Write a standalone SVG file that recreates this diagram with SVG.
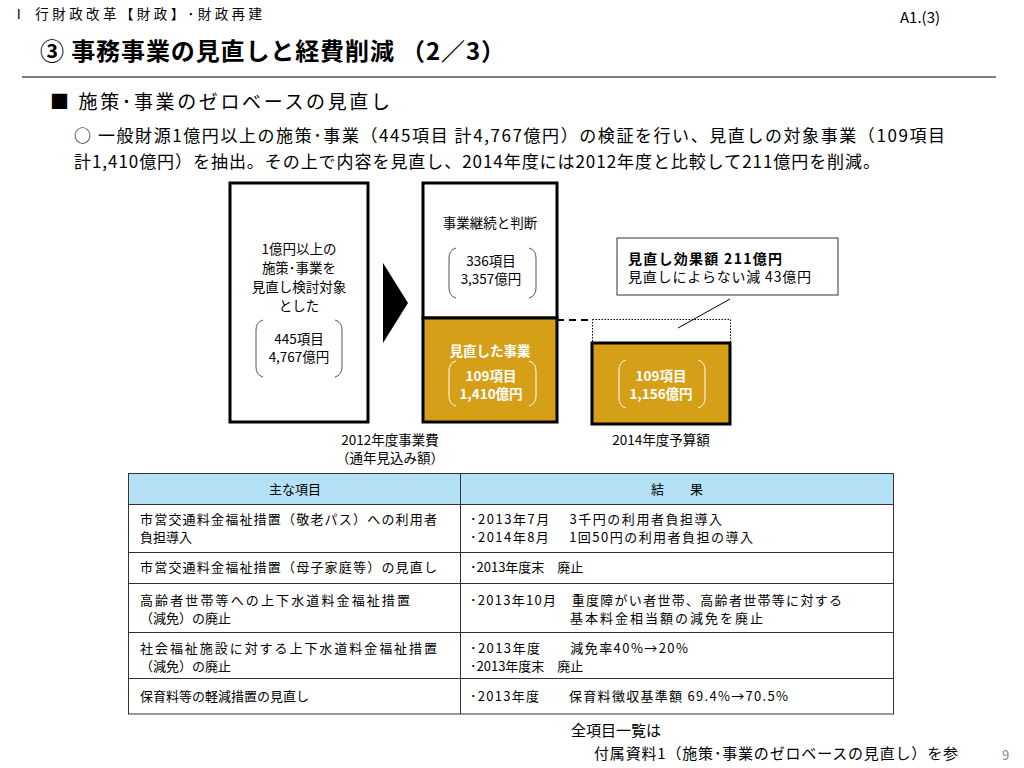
<svg xmlns="http://www.w3.org/2000/svg" width="1024" height="768" viewBox="0 0 1024 768">
<style>
text{font-family:"Noto Sans CJK JP","Noto Sans",sans-serif;fill:#000}
.w{fill:#fff;font-weight:bold}
.c{text-anchor:middle}
.t{font-size:13.5px}
.tb{font-size:13px}
.box{fill:#fff;stroke:#000;stroke-width:3}
.gold{fill:#D5A017;stroke:#000;stroke-width:3}
.br{fill:none;stroke:#555;stroke-width:1}
.brw{fill:none;stroke:#fff;stroke-width:1}
.tl{stroke:#333;stroke-width:1;fill:none}
</style>
<rect width="1024" height="768" fill="#fff"/>
<g id="header">
<text x="12" y="19" font-size="13.5" textLength="250" lengthAdjust="spacing">Ⅰ  行財政改革【財政】･財政再建</text>
<text x="900" y="23" font-size="15" font-family="Liberation Sans,sans-serif">A1.(3)</text>
<text x="40" y="60" font-size="24" font-weight="bold" textLength="465" lengthAdjust="spacing">③  事務事業の見直しと経費削減 （2／3）</text>
<line x1="22" y1="77" x2="996" y2="77" stroke="#000" stroke-width="1.2"/>
<text x="50" y="109" font-size="19" textLength="340" lengthAdjust="spacing">■ 施策･事業のゼロベースの見直し</text>
<text x="74" y="142" font-size="17" textLength="871" lengthAdjust="spacing">○ 一般財源1億円以上の施策･事業（445項目  計4,767億円）の検証を行い、見直しの対象事業（109項目</text>
<text x="74" y="168" font-size="17" textLength="806" lengthAdjust="spacing">計1,410億円）を抽出。その上で内容を見直し、2014年度には2012年度と比較して211億円を削減。</text>
</g>
<g id="node-left">
<rect class="box" x="230" y="183" width="138" height="239"/>
<text class="c t" x="299" y="254">1億円以上の</text>
<text class="c t" x="299" y="273">施策･事業を</text>
<text class="c t" x="299" y="292">見直し検討対象</text>
<text class="c t" x="299" y="311">とした</text>
<path class="br" d="M263,320 Q256,322 256,330 L256,367 Q256,375 263,377"/>
<path class="br" d="M335,320 Q342,322 342,330 L342,367 Q342,375 335,377"/>
<text class="c t" x="299" y="344">445項目</text>
<text class="c t" x="299" y="362">4,767億円</text>
</g>
<g id="arrow">
<polygon points="383,263 408,303 383,343" fill="#000"/>
</g>
<g id="node-middle">
<rect class="box" x="423" y="183" width="134" height="135"/>
<rect class="gold" x="423" y="318" width="134" height="104"/>
<text class="c t" x="490" y="228">事業継続と判断</text>
<path class="br" d="M456,248 Q449,250 449,258 L449,288 Q449,296 456,298"/>
<path class="br" d="M529,248 Q536,250 536,258 L536,288 Q536,296 529,298"/>
<text class="c t" x="491" y="266">336項目</text>
<text class="c t" x="491" y="284">3,357億円</text>
<text class="c t w" x="490" y="356">見直した事業</text>
<path class="brw" d="M456,361 Q449,363 449,371 L449,396 Q449,404 456,406"/>
<path class="brw" d="M529,361 Q536,363 536,371 L536,396 Q536,404 529,406"/>
<text class="c t w" x="491" y="381">109項目</text>
<text class="c t w" x="491" y="399">1,410億円</text>
<text class="c t" x="390" y="445">2012年度事業費</text>
<text class="c t" x="390" y="463">（通年見込み額）</text>
</g>
<g id="node-right">
<rect x="592.5" y="319.5" width="138" height="23" fill="none" stroke="#000" stroke-width="1" stroke-dasharray="1.5,1.5"/>
<rect class="gold" x="592" y="343" width="138" height="81"/>
<path class="brw" d="M626,360 Q619,362 619,370 L619,398 Q619,406 626,408"/>
<path class="brw" d="M698,360 Q705,362 705,370 L705,398 Q705,406 698,408"/>
<text class="c t w" x="661" y="381">109項目</text>
<text class="c t w" x="661" y="399">1,156億円</text>
<text class="c t" x="661" y="445">2014年度予算額</text>
</g>
<g id="callout">
<rect x="617" y="238" width="221" height="57" fill="#fff" stroke="#333" stroke-width="1"/>
<text x="628" y="264" font-size="14" font-weight="bold" textLength="154" lengthAdjust="spacing">見直し効果額  211億円</text>
<text x="628" y="282" font-size="14" textLength="183" lengthAdjust="spacing">見直しによらない減  43億円</text>
</g>
<g id="connectors">
<line x1="557" y1="320" x2="592" y2="320" stroke="#000" stroke-width="2" stroke-dasharray="7,5"/>
<line x1="730" y1="299" x2="678" y2="328" stroke="#000" stroke-width="1"/>
</g>
<g id="table">
<rect x="128.5" y="473.5" width="765" height="31" fill="#B5E1F7"/>
<rect class="tl" x="128.5" y="473.5" width="765" height="240.5" stroke-width="1.5"/>
<line class="tl" x1="128" y1="504.5" x2="894" y2="504.5"/>
<line class="tl" x1="128" y1="552.5" x2="894" y2="552.5"/>
<line class="tl" x1="128" y1="583.5" x2="894" y2="583.5"/>
<line class="tl" x1="128" y1="632.5" x2="894" y2="632.5"/>
<line class="tl" x1="128" y1="678.5" x2="894" y2="678.5"/>
<line class="tl" x1="460.5" y1="473" x2="460.5" y2="714"/>
<text class="c tb" x="295" y="494">主な項目</text>
<text class="c tb" x="677" y="494">結　　果</text>
<text class="tb" x="140" y="524" textLength="297" lengthAdjust="spacing">市営交通料金福祉措置（敬老パス）への利用者</text>
<text class="tb" x="140" y="542">負担導入</text>
<text class="tb" x="470" y="524" textLength="252" lengthAdjust="spacing">･2013年7月　 3千円の利用者負担導入</text>
<text class="tb" x="470" y="542" textLength="283" lengthAdjust="spacing">･2014年8月　 1回50円の利用者負担の導入</text>
<text class="tb" x="140" y="572" textLength="297" lengthAdjust="spacing">市営交通料金福祉措置（母子家庭等）の見直し</text>
<text class="tb" x="470" y="572">･2013年度末　廃止</text>
<text class="tb" x="140" y="605" textLength="270" lengthAdjust="spacing">高齢者世帯等への上下水道料金福祉措置</text>
<text class="tb" x="140" y="623">（減免）の廃止</text>
<text class="tb" x="470" y="605" textLength="372" lengthAdjust="spacing">･2013年10月　重度障がい者世帯、高齢者世帯等に対する</text>
<text class="tb" x="570" y="623" textLength="193" lengthAdjust="spacing">基本料金相当額の減免を廃止</text>
<text class="tb" x="140" y="653" textLength="297" lengthAdjust="spacing">社会福祉施設に対する上下水道料金福祉措置</text>
<text class="tb" x="140" y="671">（減免）の廃止</text>
<text class="tb" x="470" y="653" textLength="218" lengthAdjust="spacing">･2013年度　　減免率40%→20%</text>
<text class="tb" x="470" y="671">･2013年度末　廃止</text>
<text class="tb" x="140" y="701">保育料等の軽減措置の見直し</text>
<text class="tb" x="470" y="701" textLength="318" lengthAdjust="spacing">･2013年度　　保育料徴収基準額 69.4%→70.5%</text>
</g>
<g id="footer">
<text x="571" y="736" font-size="15">全項目一覧は</text>
<text x="594" y="759" font-size="15" textLength="364" lengthAdjust="spacing">付属資料1（施策･事業のゼロベースの見直し）を参</text>
<text x="547" y="781" font-size="15">照</text>
<text x="1002" y="760" font-size="13" style="fill:#888">9</text>
</g>
</svg>
